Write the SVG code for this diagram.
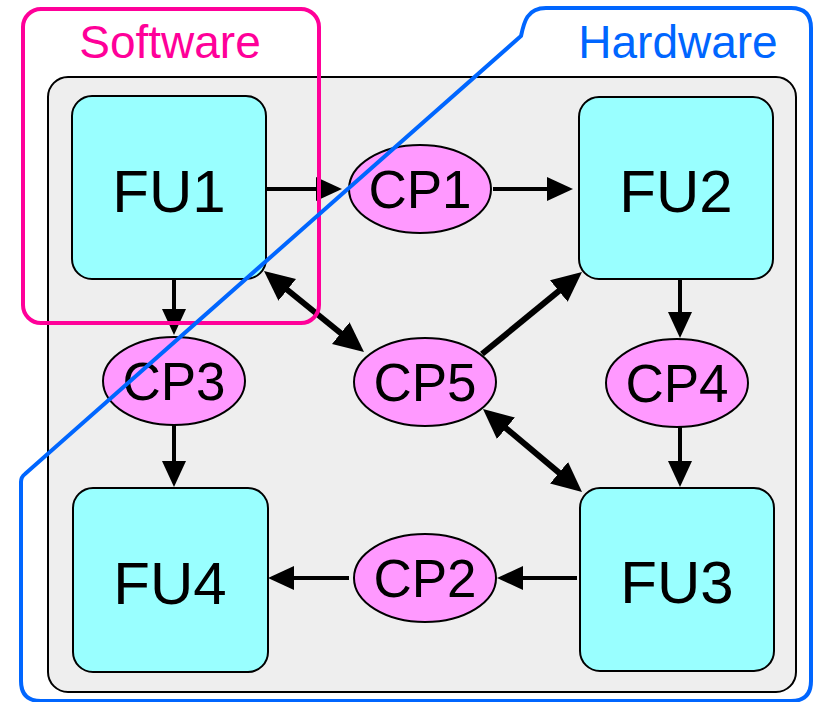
<svg xmlns="http://www.w3.org/2000/svg" width="816" height="702" viewBox="0 0 816 702">
  <style>
    .frame { fill: #EEEEEE; stroke: #000; stroke-width: 2; }
    .fu rect { fill: #99FFFF; stroke: #000; stroke-width: 2; }
    .cp ellipse { fill: #FF99FF; stroke: #000; stroke-width: 2; }
    .fu text { font-family: "Liberation Sans", Arial, sans-serif; font-size: 60px; text-anchor: middle; fill: #000; }
    .cp text { font-family: "Liberation Sans", Arial, sans-serif; font-size: 53px; text-anchor: middle; fill: #000; }
    .thin { stroke: #000; stroke-width: 4; fill: none; marker-end: url(#head); }
    .thick { stroke: #000; stroke-width: 6; fill: none; marker-end: url(#headBig); }
    .both { marker-start: url(#headBig); }
    .region-label { font-family: "Liberation Sans", Arial, sans-serif; font-size: 46px; text-anchor: middle; }
  </style>
  <defs>
    <marker id="head" markerUnits="userSpaceOnUse" markerWidth="26" markerHeight="24" viewBox="0 0 26 24" refX="20" refY="12" orient="auto">
      <path d="M0,0 L26,12 L0,24 Z" fill="#000"/>
    </marker>
    <marker id="headBig" markerUnits="userSpaceOnUse" markerWidth="30" markerHeight="28" viewBox="0 0 30 28" refX="22" refY="14" orient="auto-start-reverse">
      <path d="M0,0 L30,14 L0,28 Z" fill="#000"/>
    </marker>
  </defs>

  <!-- system frame -->
  <rect class="frame" x="48" y="77" width="748" height="615" rx="20"/>

  <!-- functional units -->
  <g id="FU1" class="fu">
    <rect x="72" y="96" width="194" height="183" rx="20"/>
    <text x="169" y="212">FU1</text>
  </g>
  <g id="FU2" class="fu">
    <rect x="579" y="97" width="194" height="182" rx="20"/>
    <text x="676" y="212">FU2</text>
  </g>
  <g id="FU3" class="fu">
    <rect x="580" y="488" width="194" height="183" rx="20"/>
    <text x="677" y="603">FU3</text>
  </g>
  <g id="FU4" class="fu">
    <rect x="73" y="488" width="195" height="184" rx="20"/>
    <text x="170" y="604">FU4</text>
  </g>

  <!-- communication points -->
  <g id="CP1" class="cp">
    <ellipse cx="420" cy="189" rx="71" ry="44"/>
    <text x="420" y="208">CP1</text>
  </g>
  <g id="CP2" class="cp">
    <ellipse cx="425" cy="578" rx="71" ry="44"/>
    <text x="425" y="597">CP2</text>
  </g>
  <g id="CP3" class="cp">
    <ellipse cx="174" cy="381" rx="71" ry="44"/>
    <text x="174" y="400">CP3</text>
  </g>
  <g id="CP4" class="cp">
    <ellipse cx="677" cy="383" rx="71" ry="44"/>
    <text x="677" y="402">CP4</text>
  </g>
  <g id="CP5" class="cp">
    <ellipse cx="425" cy="382" rx="71" ry="44"/>
    <text x="425" y="401">CP5</text>
  </g>

  <!-- connectors -->
  <g id="connectors">
    <line class="thin" x1="266" y1="189" x2="336" y2="189"/>
    <line class="thin" x1="493" y1="189" x2="567" y2="189"/>
    <line class="thin" x1="174" y1="279" x2="174" y2="329"/>
    <line class="thin" x1="174" y1="425" x2="174" y2="481"/>
    <line class="thin" x1="680" y1="279" x2="680" y2="332"/>
    <line class="thin" x1="680" y1="427" x2="680" y2="481"/>
    <line class="thin" x1="577" y1="578" x2="503" y2="578"/>
    <line class="thin" x1="349" y1="578" x2="274" y2="578"/>
    <line class="thick both" x1="270.2" y1="276" x2="357.8" y2="347"/>
    <line class="thick" x1="482" y1="354" x2="575.8" y2="277.1"/>
    <line class="thick both" x1="489.1" y1="414.1" x2="575.9" y2="486.9"/>
  </g>

  <!-- software partition -->
  <g id="software">
    <rect x="23" y="9" width="296" height="314" rx="18" fill="none" stroke="#FF0099" stroke-width="4"/>
    <text class="region-label" x="170" y="58" fill="#FF0099">Software</text>
  </g>

  <!-- hardware partition -->
  <g id="hardware">
    <path d="M21,681 L21,482 Q21,477 25,474 L521,36 C524,22 527,8 546,8 L791,8 Q811,8 811,28 L811,681 Q811,701 791,701 L41,701 Q21,701 21,681 Z" fill="none" stroke="#0066FF" stroke-width="4"/>
    <text class="region-label" x="678" y="58" fill="#0066FF">Hardware</text>
  </g>
</svg>
